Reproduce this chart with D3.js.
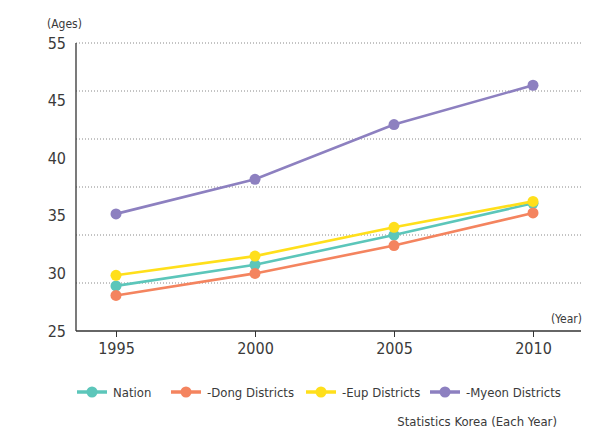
<!DOCTYPE html>
<html>
<head>
<meta charset="utf-8">
<script src="https://cdn.jsdelivr.net/npm/d3@7"></script>
<style>
    body { margin: 0; background: #fff; }
    svg text { font-family: "DejaVu Sans Condensed", "DejaVu Sans", sans-serif; font-stretch: condensed; fill: #3a3a3a; }
</style>
</head>
<body>
<div id="chart"></div>
<script>
    // data
    let years = [1995, 2000, 2005, 2010];
    let nation = [29.7, 31.9, 35.0, 38.3];
    let dong = [28.7, 31.0, 33.9, 37.3];
    let eup = [30.8, 32.8, 35.8, 38.5];
    let myeon = [37.2, 40.8, 46.5, 50.6];
    let seriesNames = ["Nation", "-Dong Districts", "-Eup Districts", "-Myeon Districts"];
    let seriesColors = ["#5cc6ba", "#f4845f", "#ffdf1b", "#8d80c0"];
    let gridValues = [30, 35, 40, 45, 50, 55];
    // the y labels as printed (one value is missing in the original)
    let yLabels = ["25", "30", "35", "40", "45", "55"];

    let series = [nation, dong, eup, myeon];

    let width = 610, height = 432;
    let margin = {top: 43, right: 28, bottom: 101, left: 76};

    let svg = d3.select("#chart").append("svg")
        .attr("width", width)
        .attr("height", height);

    // scales
    let x = d3.scalePoint()
        .domain(years)
        .range([116, 533]);

    let y = d3.scaleLinear()
        .domain([25, 55])
        .range([height - margin.bottom, margin.top]);

    let yLab = d3.scalePoint()
        .domain(yLabels)
        .range([height - margin.bottom, margin.top]);

    // dotted grid
    svg.append("g")
        .selectAll("line")
        .data(gridValues)
        .enter().append("line")
        .attr("x1", margin.left)
        .attr("x2", width - margin.right)
        .attr("y1", d => y(d))
        .attr("y2", d => y(d))
        .attr("stroke", "#888")
        .attr("stroke-width", 1)
        .attr("stroke-dasharray", "1,2");

    // y axis
    let yAxis = d3.axisLeft(yLab).tickSize(0).tickPadding(10);
    let yg = svg.append("g")
        .attr("transform", `translate(${margin.left},0)`)
        .call(yAxis);
    yg.select(".domain").remove();
    yg.selectAll("text").style("font-size", "16px").attr("fill", "#3a3a3a");

    svg.append("line")
        .attr("x1", margin.left).attr("x2", margin.left)
        .attr("y1", margin.top).attr("y2", height - margin.bottom)
        .attr("stroke", "#333").attr("stroke-width", 1.3);

    // x axis
    let xAxis = d3.axisBottom(x).tickSize(6).tickPadding(6).tickSizeOuter(0);
    let xg = svg.append("g")
        .attr("transform", `translate(0,${height - margin.bottom})`)
        .call(xAxis);
    xg.select(".domain").remove();
    xg.selectAll("line").attr("stroke", "#333");
    xg.selectAll("text").style("font-size", "16px").attr("fill", "#3a3a3a");

    svg.append("line")
        .attr("x1", margin.left).attr("x2", width - margin.right - 1)
        .attr("y1", height - margin.bottom).attr("y2", height - margin.bottom)
        .attr("stroke", "#333").attr("stroke-width", 1.3);

    // unit labels
    svg.append("text")
        .attr("x", 47).attr("y", 28)
        .style("font-size", "12px")
        .text("(Ages)");

    svg.append("text")
        .attr("x", 582).attr("y", 323)
        .attr("text-anchor", "end")
        .style("font-size", "12px")
        .text("(Year)");

    // lines and points
    let line = d3.line()
        .x((d, i) => x(years[i]))
        .y(d => y(d));

    series.forEach((s, k) => {
        svg.append("path")
            .datum(s)
            .attr("fill", "none")
            .attr("stroke", seriesColors[k])
            .attr("stroke-width", 2.6)
            .attr("d", line);

        svg.selectAll(".dot" + k)
            .data(s)
            .enter().append("circle")
            .attr("class", "dot" + k)
            .attr("cx", (d, i) => x(years[i]))
            .attr("cy", d => y(d))
            .attr("r", 5.5)
            .attr("fill", seriesColors[k]);
    });

    // legend
    let legendX = [77, 171, 306, 430];
    let legend = svg.append("g").attr("transform", "translate(0,392)");
    seriesNames.forEach((name, k) => {
        let g = legend.append("g").attr("transform", `translate(${legendX[k]},0)`);
        g.append("line")
            .attr("x1", 0).attr("x2", 30)
            .attr("stroke", seriesColors[k])
            .attr("stroke-width", 3.5);
        g.append("circle")
            .attr("cx", 15).attr("r", 5.5)
            .attr("fill", seriesColors[k]);
        g.append("text")
            .attr("x", 36).attr("dy", "0.35em")
            .style("font-size", "13px")
            .text(name);
    });

    svg.append("text")
        .attr("x", 557).attr("y", 426)
        .attr("text-anchor", "end")
        .style("font-size", "13px")
        .text("Statistics Korea (Each Year)");
</script>
</body>
</html>
